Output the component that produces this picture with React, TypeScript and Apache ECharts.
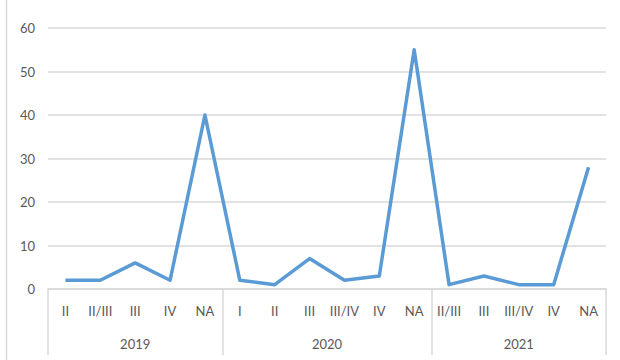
import React, { useEffect, useRef } from "react";
import * as echarts from "echarts";

// Stage labels along the x axis, grouped by year
const stages2019 = ["II", "II/III", "III", "IV", "NA"];
const stages2020 = ["I", "II", "III", "III/IV", "IV", "NA"];
const stages2021 = ["II/III", "III", "III/IV", "IV", "NA"];
const years = ["2019", "2020", "2021"];

// Counts per stage
const values2019 = [2, 2, 6, 2, 40];
const values2020 = [2, 1, 7, 2, 3, 55];
const values2021 = [1, 3, 1, 1, 28];

const yTicks = [0, 10, 20, 30, 40, 50, 60];

const groups = [stages2019, stages2020, stages2021];
const categories = groups.flat();
const values = [...values2019, ...values2020, ...values2021];

// Year axis: half-step positions so that group edges and group centres fall on points
const halfSteps = categories.length * 2 + 1;
const boundaryIdx: number[] = [0];
const centerIdx: Record<number, string> = {};
{
  let start = 0;
  groups.forEach((g, i) => {
    const end = start + g.length;
    boundaryIdx.push(end * 2);
    centerIdx[start + end] = years[i];
    start = end;
  });
}
const yearAxisData = Array.from({ length: halfSteps }, (_, i) => centerIdx[i] ?? "");

const FONT = "Lato";
const TEXT = "#595959";
const RULE = "#d9d9d9";

export default function App() {
  const ref = useRef<HTMLDivElement>(null);
  useEffect(() => {
    if (!ref.current) return;
    const chart = echarts.init(ref.current, null, { renderer: "svg" });
    chart.setOption({
      animation: false,
      backgroundColor: "#ffffff",
      grid: { left: 48, right: 14, top: 28, bottom: 71, containLabel: false },
      graphic: [
        {
          type: "line",
          shape: { x1: 6.5, y1: 0, x2: 6.5, y2: 360 },
          style: { stroke: RULE, lineWidth: 1.5 },
        },
      ],
      xAxis: [
        {
          type: "category",
          data: categories,
          boundaryGap: true,
          axisLine: { show: true, lineStyle: { color: RULE, width: 1.5 } },
          axisTick: { show: false },
          axisLabel: {
            interval: 0,
            margin: 15,
            color: TEXT,
            fontFamily: FONT,
            fontSize: 13,
          },
        },
        {
          type: "category",
          data: yearAxisData,
          boundaryGap: false,
          position: "bottom",
          axisLine: { show: false },
          axisTick: {
            show: true,
            inside: false,
            length: 66,
            interval: (i: number) => boundaryIdx.includes(i),
            lineStyle: { color: RULE, width: 1.5 },
          },
          axisLabel: {
            interval: (i: number) => centerIdx[i] !== undefined,
            margin: 48,
            color: TEXT,
            fontFamily: FONT,
            fontSize: 13,
          },
        },
      ],
      yAxis: {
        type: "value",
        min: yTicks[0],
        max: yTicks[yTicks.length - 1],
        interval: yTicks[1] - yTicks[0],
        axisLine: { show: false },
        axisTick: { show: false },
        axisLabel: { margin: 13, color: TEXT, fontFamily: FONT, fontSize: 13 },
        splitLine: { lineStyle: { color: RULE, width: 1.5 } },
      },
      series: [
        {
          type: "line",
          xAxisIndex: 0,
          data: values,
          showSymbol: false,
          symbol: "none",
          lineStyle: { color: "#5b9bd5", width: 3.5, join: "round" },
        },
      ],
    });
    return () => chart.dispose();
  }, []);
  return <div ref={ref} style={{ width: 620, height: 360, position: "absolute", left: 0, top: 0 }} />;
}
